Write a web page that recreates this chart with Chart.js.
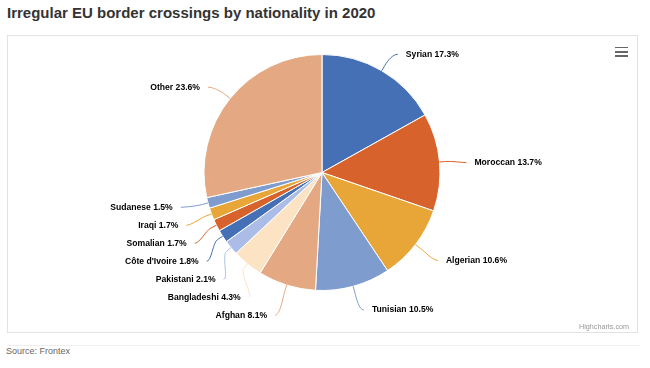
<!DOCTYPE html>
<html>
<head>
<meta charset="utf-8">
<script src="https://cdn.jsdelivr.net/npm/chart.js@4/dist/chart.umd.min.js"></script>
<style>
html,body{margin:0;padding:0;background:#fff;width:650px;height:368px;overflow:hidden;font-family:"Liberation Sans",Arial,sans-serif;}
#title{position:absolute;left:7px;top:4px;font-size:15px;font-weight:bold;color:#333;line-height:18px;white-space:nowrap;}
#box{position:absolute;left:7px;top:35px;width:629px;height:296px;border:1px solid #e2e2e2;}
#cv{position:absolute;left:8px;top:36px;}
.bar{position:absolute;left:615px;width:13px;height:1.8px;background:#666;}
#credit{position:absolute;right:21px;top:322px;font-size:7.2px;line-height:9px;color:#999;white-space:nowrap;}
#sep{position:absolute;left:7px;top:345px;width:633px;height:1px;background:#efefef;}
#source{position:absolute;left:6px;top:346px;font-size:9px;line-height:11px;color:#666;white-space:nowrap;}
</style>
</head>
<body>
<div id="title">Irregular EU border crossings by nationality in 2020</div>
<div id="box"></div>
<canvas id="cv" width="629" height="296"></canvas>
<div class="bar" style="top:46.5px"></div>
<div class="bar" style="top:50.8px"></div>
<div class="bar" style="top:55.1px"></div>
<div id="credit">Highcharts.com</div>
<div id="sep"></div>
<div id="source">Source: Frontex</div>
<script>
// Categories (clockwise from top)
const categories = ['Syrian', 'Moroccan', 'Algerian', 'Tunisian', 'Afghan', 'Bangladeshi',
  'Pakistani', "Côte d'Ivoire", 'Somalian', 'Iraqi', 'Sudanese', 'Other'];
// Percentages printed in the data labels
const labelPercents = [17.3, 13.7, 10.6, 10.5, 8.1, 4.3, 2.1, 1.8, 1.7, 1.7, 1.5, 23.6];
// Slice sizes as drawn (the "Other" slice is drawn larger than its printed share)
const sliceValues = [17.3, 13.7, 10.6, 10.5, 8.1, 4.3, 2.1, 1.8, 1.7, 1.7, 1.5, 29.1];
// Slice colours
const sliceColors = ['#4670b6', '#d7622c', '#e7a637', '#7f9ccf', '#e4a983', '#fbe3c3',
  '#abbde6', '#4670b6', '#d7622c', '#e7a637', '#7f9ccf', '#e4a983'];

const LABEL_DIST = 22, LABEL_PAD = 13, LABEL_H = 18, CONN_GAP = 8, BREAK_OFF = 6;
const LABEL_DY = 2.5, GROUP_BIAS = 7;

const pieLabels = {
  id: 'pieLabels',
  afterDatasetsDraw(chart) {
    const ctx = chart.ctx;
    const arcs = chart.getDatasetMeta(0).data;
    const items = arcs.map((arc, i) => {
      const p = arc.getProps(['x', 'y', 'startAngle', 'endAngle', 'outerRadius'], true);
      return { i, p, mid: (p.startAngle + p.endAngle) / 2 };
    });
    const cx = items[0].p.x, cy = items[0].p.y, r = items[0].p.outerRadius;
    const R = r + LABEL_DIST;
    items.forEach(it => {
      it.nx = cx + R * Math.cos(it.mid);
      it.ny = cy + R * Math.sin(it.mid) + LABEL_DY;
      it.left = Math.cos(it.mid) < 0;
    });
    // distribute labels vertically on each side
    [true, false].forEach(side => {
      const list = items.filter(it => it.left === side).sort((a, b) => a.ny - b.ny);
      const groups = list.map(it => ({ items: [it], targets: [it.ny] }));
      const place = g => {
        const m = g.targets.reduce((a, b) => a + b, 0) / g.targets.length;
        g.pos = m - g.items.length * LABEL_H / 2 + (g.items.length > 1 ? GROUP_BIAS : 0);
      };
      groups.forEach(place);
      let changed = true;
      while (changed) {
        changed = false;
        for (let k = 1; k < groups.length; k++) {
          const a = groups[k - 1], b = groups[k];
          if (b.pos < a.pos + a.items.length * LABEL_H - 0.01) {
            a.items = a.items.concat(b.items);
            a.targets = a.targets.concat(b.targets);
            place(a);
            groups.splice(k, 1);
            changed = true;
            break;
          }
        }
      }
      groups.forEach(g => g.items.forEach((it, k) => { it.y = g.pos + LABEL_H / 2 + k * LABEL_H; }));
    });
    ctx.save();
    ctx.font = 'bold 8.6px "Liberation Sans", Arial, sans-serif';
    ctx.textBaseline = 'middle';
    items.forEach(it => {
      const dy = it.y - LABEL_DY - cy;
      let dx;
      if (Math.abs(dy) > R - 2) dx = Math.abs(it.nx - cx);
      else dx = Math.sqrt(Math.max(R * R - dy * dy, 0));
      const sgn = it.left ? -1 : 1;
      const tx = cx + sgn * (dx + LABEL_PAD);
      const ex = tx - sgn * CONN_GAP, ey = it.y;
      const touch = { x: cx + r * Math.cos(it.mid), y: cy + r * Math.sin(it.mid) };
      const brk = { x: cx + (r + BREAK_OFF) * Math.cos(it.mid), y: cy + (r + BREAK_OFF) * Math.sin(it.mid) };
      ctx.beginPath();
      ctx.moveTo(ex, ey);
      ctx.bezierCurveTo(ex - sgn * 5, ey, 2 * brk.x - touch.x, 2 * brk.y - touch.y, brk.x, brk.y);
      ctx.lineTo(touch.x, touch.y);
      ctx.strokeStyle = sliceColors[it.i];
      ctx.lineWidth = 1;
      ctx.stroke();
      const text = categories[it.i] + ' ' + labelPercents[it.i].toFixed(1) + '%';
      ctx.textAlign = it.left ? 'right' : 'left';
      ctx.lineJoin = 'round';
      ctx.strokeStyle = '#fff';
      ctx.lineWidth = 2;
      ctx.strokeText(text, tx, it.y);
      ctx.fillStyle = '#000';
      ctx.fillText(text, tx, it.y);
    });
    ctx.restore();
  }
};

new Chart(document.getElementById('cv'), {
  type: 'pie',
  data: {
    labels: categories,
    datasets: [{ data: sliceValues, backgroundColor: sliceColors, borderColor: '#fff', borderWidth: 1 }]
  },
  options: {
    responsive: false,
    animation: false,
    devicePixelRatio: 1,
    layout: { padding: { left: 164, right: 165, top: 18, bottom: 41 } },
    plugins: { legend: { display: false }, tooltip: { enabled: false } }
  },
  plugins: [pieLabels]
});
</script>
</body>
</html>
